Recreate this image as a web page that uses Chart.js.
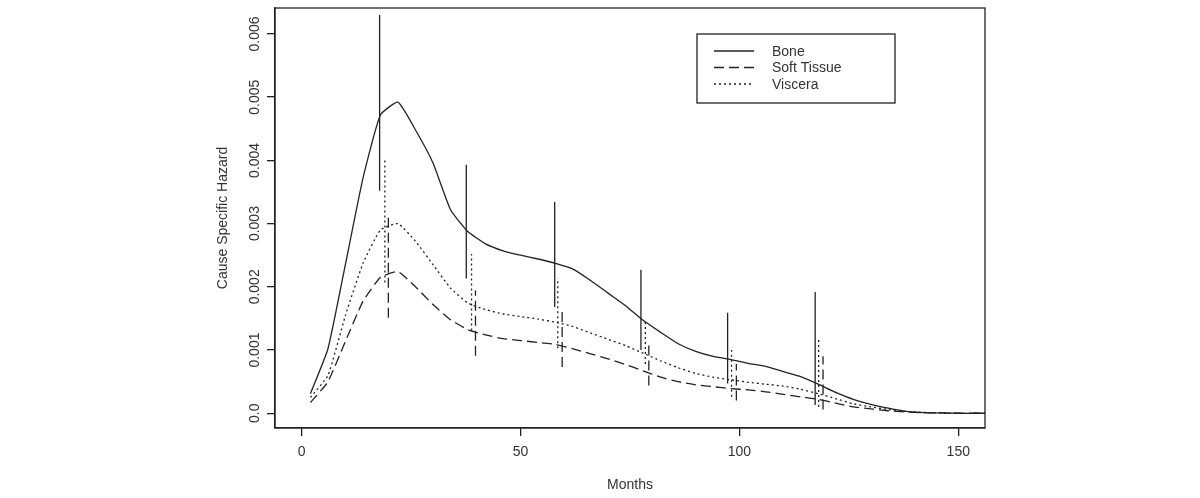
<!DOCTYPE html>
<html lang="en">
<head>
  <meta charset="UTF-8" />
  <title>Cause Specific Hazard</title>
  <script src="https://cdn.jsdelivr.net/npm/chart.js"></script>
  <style>
    html, body { margin: 0; padding: 0; background: #fff; }
    #wrap { width: 1200px; height: 498px; }
  </style>
</head>
<body>
  <div id="wrap"><canvas id="hazardChart" width="1200" height="498"></canvas></div>

  <script>
    // months where the hazard curves are evaluated
    const months = [2, 6, 10, 14, 18, 22, 26, 30, 34, 38, 42, 46, 50, 54, 58, 62, 66, 70, 74, 78,
                    82, 86, 90, 94, 98, 102, 106, 110, 114, 118, 122, 126, 130, 134, 138, 142, 146, 150, 154, 158];

    const bone = [0.00031, 0.00102, 0.00236, 0.00372, 0.00472, 0.00492, 0.00448, 0.00396, 0.00322, 0.00287,
                  0.00268, 0.00257, 0.0025, 0.00244, 0.00237, 0.00228, 0.0021, 0.0019, 0.00170, 0.00147,
                  0.00128, 0.0011, 0.00098, 0.0009, 0.00085, 0.00079, 0.00074, 0.00066, 0.00058, 0.00046,
                  0.00033, 0.00022, 0.00014, 0.00008, 0.00003, 0.00001, 0.000005, 0, 0, 0];

    const softTissue = [0.00017, 0.0005, 0.00114, 0.00177, 0.00215, 0.00224, 0.002, 0.00172, 0.00148, 0.00132,
                        0.00124, 0.00118, 0.00115, 0.00112, 0.00109, 0.00102, 0.00094, 0.00086, 0.00077, 0.00067,
                        0.00057, 0.0005, 0.00045, 0.00042, 0.00039, 0.00037, 0.00034, 0.0003, 0.00026, 0.00022,
                        0.00016, 0.0001, 0.00007, 0.00004, 0.00002, 0.00001, 0.000005, 0, 0, 0];

    const viscera = [0.00025, 0.0006, 0.00155, 0.00237, 0.0029, 0.003, 0.00272, 0.00235, 0.00198, 0.00174,
                     0.00164, 0.00157, 0.00153, 0.00149, 0.00144, 0.00137, 0.00127, 0.00117, 0.00107, 0.00095,
                     0.00083, 0.00072, 0.00063, 0.00057, 0.00053, 0.00049, 0.00046, 0.00043, 0.00038, 0.00031,
                     0.00023, 0.00015, 0.0001, 0.00006, 0.00003, 0.000015, 0.000005, 0, 0, 0];

    // confidence bars
    const boneBarX = [17.8, 37.6, 57.8, 77.5, 97.3, 117.3];
    const boneBarLo = [0.00352, 0.00213, 0.00168, 0.001, 0.00047, 0.00013];
    const boneBarHi = [0.0063, 0.00393, 0.00334, 0.00227, 0.00159, 0.00192];

    const visceraBarX = [19.0, 38.8, 58.5, 78.5, 98.2, 118.1];
    const visceraBarLo = [0.00207, 0.00131, 0.00103, 0.00078, 0.00026, 0.0001];
    const visceraBarHi = [0.00402, 0.00252, 0.00214, 0.00147, 0.001, 0.0012];

    const softBarX = [19.8, 39.7, 59.5, 79.3, 99.3, 119.1];
    const softBarLo = [0.00151, 0.00091, 0.00073, 0.00044, 0.0002, 0.00006];
    const softBarHi = [0.0031, 0.00194, 0.00163, 0.0011, 0.00078, 0.0009];

    const seriesNames = ['Bone', 'Soft Tissue', 'Viscera'];
    const xTicks = [0, 50, 100, 150];
    const yTicks = [0, 0.001, 0.002, 0.003, 0.004, 0.005, 0.006];
    const yTickLabels = ['0.0', '0.001', '0.002', '0.003', '0.004', '0.005', '0.006'];

    const ink = '#222';
    const textInk = '#333';
    const fontFamily = '"Liberation Sans", Arial, sans-serif';
    const dashes = [[], [10, 5], [2, 3]];

    function curve(values) {
      return months.map((m, i) => ({ x: m, y: values[i] }));
    }

    function bars(xs, lo, hi) {
      const pts = [];
      xs.forEach((x, i) => {
        pts.push({ x: x, y: lo[i] });
        pts.push({ x: x, y: hi[i] });
        pts.push({ x: x, y: null });
      });
      return pts;
    }

    function lineSet(label, data, dash, tension) {
      return {
        label: label,
        data: data,
        borderColor: ink,
        borderWidth: 1.3,
        borderDash: dash,
        pointRadius: 0,
        tension: tension,
        spanGaps: false,
        fill: false
      };
    }

    // R style frame, rotated y labels, axis titles and the boxed legend
    const frame = {
      id: 'frame',
      afterDraw(chart) {
        const ctx = chart.ctx;
        const a = chart.chartArea;
        const ys = chart.scales.y;
        ctx.save();
        ctx.strokeStyle = ink;
        ctx.lineWidth = 1.3;
        ctx.strokeRect(a.left, a.top, a.right - a.left, a.bottom - a.top);

        ctx.fillStyle = textInk;
        ctx.font = '14px ' + fontFamily;
        ctx.textAlign = 'center';
        ctx.textBaseline = 'middle';
        yTicks.forEach((v, i) => {
          const py = ys.getPixelForValue(v);
          ctx.save();
          ctx.translate(a.left - 20, py);
          ctx.rotate(-Math.PI / 2);
          ctx.fillText(yTickLabels[i], 0, 0);
          ctx.restore();
        });

        ctx.fillText('Months', (a.left + a.right) / 2, 485);
        ctx.save();
        ctx.translate(223, (a.top + a.bottom) / 2);
        ctx.rotate(-Math.PI / 2);
        ctx.fillText('Cause Specific Hazard', 0, 0);
        ctx.restore();

        // legend
        const lx = 697, ly = 34, lw = 198, lh = 69;
        ctx.lineWidth = 1.3;
        ctx.strokeRect(lx, ly, lw, lh);
        ctx.textAlign = 'left';
        seriesNames.forEach((name, i) => {
          const ry = 51 + i * 16.5;
          ctx.beginPath();
          ctx.setLineDash(dashes[i]);
          ctx.moveTo(714, ry);
          ctx.lineTo(754, ry);
          ctx.stroke();
          ctx.setLineDash([]);
          ctx.fillText(name, 772, ry + 1);
        });
        ctx.restore();
      }
    };

    new Chart(document.getElementById('hazardChart'), {
      type: 'line',
      data: {
        datasets: [
          lineSet(seriesNames[0], curve(bone), dashes[0], 0.15),
          lineSet(seriesNames[1], curve(softTissue), dashes[1], 0.15),
          lineSet(seriesNames[2], curve(viscera), dashes[2], 0.15),
          lineSet('boneBars', bars(boneBarX, boneBarLo, boneBarHi), dashes[0], 0),
          lineSet('softBars', bars(softBarX, softBarLo, softBarHi), dashes[1], 0),
          lineSet('visceraBars', bars(visceraBarX, visceraBarLo, visceraBarHi), dashes[2], 0)
        ]
      },
      options: {
        responsive: false,
        animation: false,
        layout: { padding: { left: 0, right: 215, top: 8, bottom: 0 } },
        plugins: {
          legend: { display: false },
          tooltip: { enabled: false }
        },
        scales: {
          x: {
            type: 'linear',
            min: -6.1,
            max: 156.1,
            afterBuildTicks: (s) => { s.ticks = xTicks.map(v => ({ value: v })); },
            afterFit: (s) => { s.height = 70; },
            ticks: {
              color: textInk,
              font: { size: 14, family: fontFamily },
              padding: 8,
              maxRotation: 0,
              callback: (v) => String(v)
            },
            grid: { drawOnChartArea: false, drawTicks: true, tickLength: 8, color: ink, lineWidth: 1.3 },
            border: { display: true, color: ink, width: 1.3 }
          },
          y: {
            type: 'linear',
            min: -0.000233,
            max: 0.00641,
            afterBuildTicks: (s) => { s.ticks = yTicks.map(v => ({ value: v })); },
            afterFit: (s) => { s.width = 275; },
            ticks: { display: false },
            grid: { drawOnChartArea: false, drawTicks: true, tickLength: 8, color: ink, lineWidth: 1.3 },
            border: { display: true, color: ink, width: 1.3 }
          }
        }
      },
      plugins: [frame]
    });
  </script>
</body>
</html>
